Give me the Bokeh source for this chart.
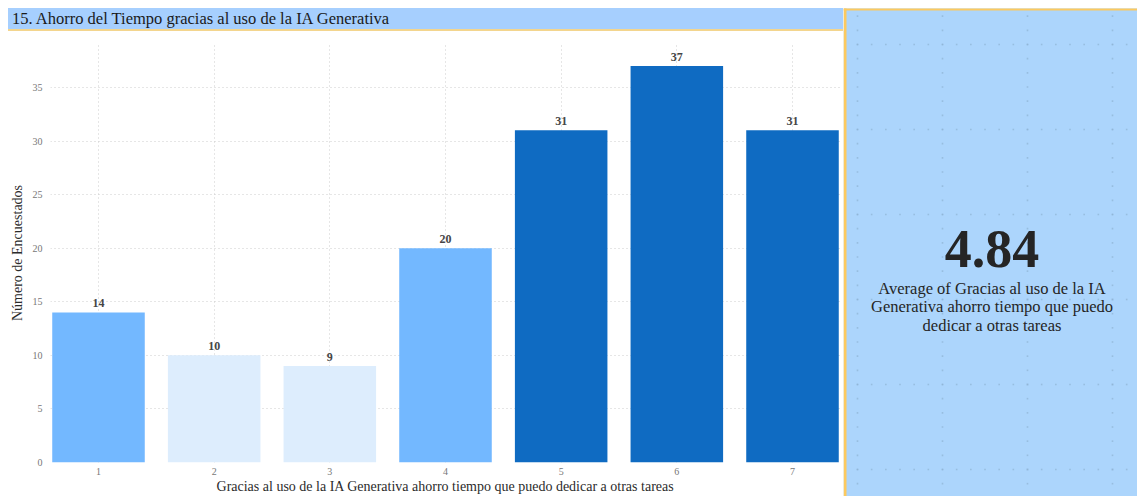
from bokeh.plotting import figure
from bokeh.layouts import row, column
from bokeh.models import Range1d, FixedTicker, ColumnDataSource, Div
from bokeh.core.properties import value
from bokeh.embed import file_html
from bokeh.resources import INLINE

# Survey answers (scale 1-7) and number of respondents per answer
categories = [1, 2, 3, 4, 5, 6, 7]
respondents = [14, 10, 9, 20, 31, 37, 31]
bar_colors = ["#73b8ff", "#ddedfd", "#ddedfd", "#73b8ff", "#0f6bc2", "#0f6bc2", "#0f6bc2"]
y_ticks = [0, 5, 10, 15, 20, 25, 30, 35]

title_text = "15. Ahorro del Tiempo gracias al uso de la IA Generativa"
x_label = "Gracias al uso de la IA Generativa ahorro tiempo que puedo dedicar a otras tareas"
y_label = "Número de Encuestados"
card_caption = ["Average of Gracias al uso de la IA",
                "Generativa ahorro tiempo que puedo",
                "dedicar a otras tareas"]

average = sum(c * n for c, n in zip(categories, respondents)) / sum(respondents)

SERIF = "Liberation Serif"
W, H = 1137, 496
LEFT_W = 843
TITLE_H = 31

# ---- title bar ----
title_bar = Div(
    text=title_text, width=LEFT_W, height=TITLE_H,
    styles={"box-sizing": "border-box", "padding": "8px 0 0 8px", "margin": "0",
            "background": "white"},
    stylesheets=[""":host > div, .bk-clearfix {
        box-sizing: border-box; width: 835px; height: 23px;
        background: #a6cffe; border-bottom: 2px solid #f3d58e;
        font-family: 'Liberation Serif'; font-size: 16.5px; color: #1a1a1a;
        line-height: 21px; padding-left: 4px; white-space: nowrap; }"""],
)

# ---- column chart ----
src = ColumnDataSource(dict(x=categories, y=respondents, color=bar_colors,
                            label=[str(v) for v in respondents]))

p = figure(width=LEFT_W, height=H - TITLE_H, x_range=Range1d(0.585, 7.415),
           y_range=Range1d(0, 39.1), toolbar_location=None, output_backend="svg",
           min_border_left=50, min_border_right=3, min_border_top=12, min_border_bottom=34)
p.outline_line_color = None
p.background_fill_color = "white"
p.border_fill_color = "white"

p.vbar(x="x", top="y", width=0.8, source=src, fill_color="color", line_color=None)
p.text(x="x", y="y", text="label", source=src, text_font=value(SERIF),
       text_font_size="12px", text_font_style="bold", text_color="#454545",
       text_align="center", text_baseline="bottom", y_offset=-5)

p.xaxis.ticker = FixedTicker(ticks=categories)
p.yaxis.ticker = FixedTicker(ticks=y_ticks)
for ax in (p.xaxis[0], p.yaxis[0]):
    ax.axis_line_color = None
    ax.major_tick_line_color = None
    ax.minor_tick_line_color = None
    ax.major_tick_out = 0
    ax.major_tick_in = 0
    ax.minor_tick_out = 0
    ax.minor_tick_in = 0
    ax.major_label_text_font = SERIF
    ax.major_label_text_font_size = "10px"
    ax.major_label_text_color = "#777777"
    ax.axis_label_text_font = SERIF
    ax.axis_label_text_font_size = "14px"
    ax.axis_label_text_font_style = "normal"
    ax.axis_label_text_color = "#2b2b2b"
p.xaxis.axis_label = x_label
p.yaxis.axis_label = y_label
p.xaxis.major_label_standoff = 5
p.xaxis.axis_label_standoff = 1
p.yaxis.major_label_standoff = 8
p.yaxis.axis_label_standoff = 5

for g in (p.xgrid[0], p.ygrid[0]):
    g.grid_line_color = "#cccccc"
    g.grid_line_dash = "1 3"
    g.grid_line_width = 1

# ---- KPI card ----
card = figure(width=W - LEFT_W, height=H, x_range=Range1d(LEFT_W, W), y_range=Range1d(H, 0),
              toolbar_location=None, output_backend="svg",
              min_border=0, min_border_left=0, min_border_right=0,
              min_border_top=0, min_border_bottom=0)
card.axis.visible = False
card.grid.visible = False
card.outline_line_color = None
card.background_fill_color = "white"
card.border_fill_color = "white"
card.quad(left=LEFT_W, right=W, top=8, bottom=H, fill_color="#acd5fc", line_color=None)

# faint canvas dot grid
step = 85 / 6
gx0, gy0 = 857, 44
dots_x, dots_y = [], []
col_xs = [gx0 + 85 * i for i in range(4)]
row_ys = [gy0 + 85 * j for j in range(6)]
for cx in col_xs:
    yy = gy0 - 2 * step
    while yy < H:
        dots_x.append(cx); dots_y.append(yy); yy += step
for ry in row_ys:
    xx = gx0
    while xx < W:
        dots_x.append(xx); dots_y.append(ry); xx += step
card.scatter(dots_x, dots_y, marker="square", size=1.6, fill_color="#8fb3d3",
             line_color=None, alpha=0.7)

card.quad(left=LEFT_W, right=W, top=8, bottom=10, fill_color="#fcc95f", line_color=None)
card.quad(left=LEFT_W, right=LEFT_W + 3, top=8, bottom=H, fill_color="#fcc95f", line_color=None)

cx = (LEFT_W + 3 + W) / 2
card.text(x=[cx], y=[248.5], text=[f"{average:.2f}"], text_font=value(SERIF),
          text_font_size="54px", text_font_style="bold", text_color="#252525",
          text_align="center", text_baseline="middle")
card.text(x=[cx] * 3, y=[287.5, 306, 324.5], text=card_caption, text_font=value(SERIF),
          text_font_size="16.5px", text_color="#252525",
          text_align="center", text_baseline="middle")

layout = row(column(title_bar, p, spacing=0), card, spacing=0)

with open("out.html", "w") as fh:
    fh.write(file_html(layout, INLINE))
